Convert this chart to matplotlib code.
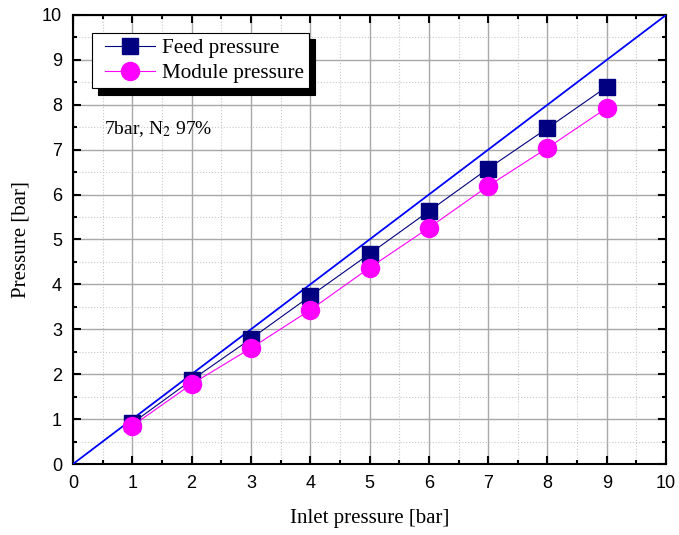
import numpy as np
import matplotlib.pyplot as plt
from matplotlib.ticker import MultipleLocator
from matplotlib.lines import Line2D
from matplotlib.legend_handler import HandlerLine2D

# valores
inlet = [1, 2, 3, 4, 5, 6, 7, 8, 9]
feed_pressure = [0.91, 1.87, 2.79, 3.74, 4.68, 5.63, 6.58, 7.48, 8.40]
module_pressure = [0.85, 1.78, 2.58, 3.43, 4.37, 5.26, 6.19, 7.04, 7.93]
ref_line = [0, 10]

fig = plt.figure(figsize=(6.79, 5.35), dpi=100)
ax = fig.add_axes([0.1075, 0.1327, 0.8735, 0.8393])

# grade principal e secundaria
ax.xaxis.set_major_locator(MultipleLocator(1))
ax.yaxis.set_major_locator(MultipleLocator(1))
ax.xaxis.set_minor_locator(MultipleLocator(0.5))
ax.yaxis.set_minor_locator(MultipleLocator(0.5))
ax.grid(True, which='major', color='#a8a8a8', linewidth=1.0, linestyle='-')
ax.grid(True, which='minor', color='#c8c8c8', linewidth=0.8, linestyle=':')
ax.set_axisbelow(True)

ax.plot(ref_line, ref_line, color='#0000ff', linewidth=1.3, zorder=3)
ax.plot(inlet, feed_pressure, color='#000080', linewidth=0.8, marker='s',
        markersize=11.5, markerfacecolor='#000080', markeredgecolor='#000080',
        label='Feed pressure', zorder=4)
ax.plot(inlet, module_pressure, color='#ff00ff', linewidth=0.8, marker='o',
        markersize=13, markerfacecolor='#ff00ff', markeredgecolor='#ff00ff',
        label='Module pressure', zorder=5)

ax.set_xlim(0, 10)
ax.set_ylim(0, 10)

ax.tick_params(which='both', direction='in', top=True, right=True, width=1.5)
ax.tick_params(which='major', length=6, labelsize=13, pad=8)
ax.tick_params(which='minor', length=3)
for lbl in ax.get_xticklabels() + ax.get_yticklabels():
    lbl.set_family('Liberation Sans')
for sp in ax.spines.values():
    sp.set_linewidth(1.5)

ax.set_xlabel('Inlet pressure [bar]', family='Liberation Serif', fontsize=15, labelpad=12)
ax.set_ylabel('Pressure [bar]', family='Liberation Serif', fontsize=15, labelpad=8)

leg = ax.legend(loc='upper left', bbox_to_anchor=(0.032, 0.96), borderaxespad=0,
                prop={'family': 'Liberation Serif', 'size': 15.2},
                fancybox=False, edgecolor='black', framealpha=1,
                shadow={'color': 'black', 'alpha': 1, 'ox': 4.5, 'oy': -4.5},
                handlelength=2.75, borderpad=0.25, labelspacing=0.25,
                handletextpad=0.3,
                handler_map={Line2D: HandlerLine2D(xpad=0.38)})
leg.get_frame().set_linewidth(0.8)

ax.text(0.052, 0.735, '7bar, N$_2$ 97%', transform=ax.transAxes,
        family='Liberation Serif', fontsize=14, math_fontfamily='stix')

fig.savefig('out.png', dpi=100)
